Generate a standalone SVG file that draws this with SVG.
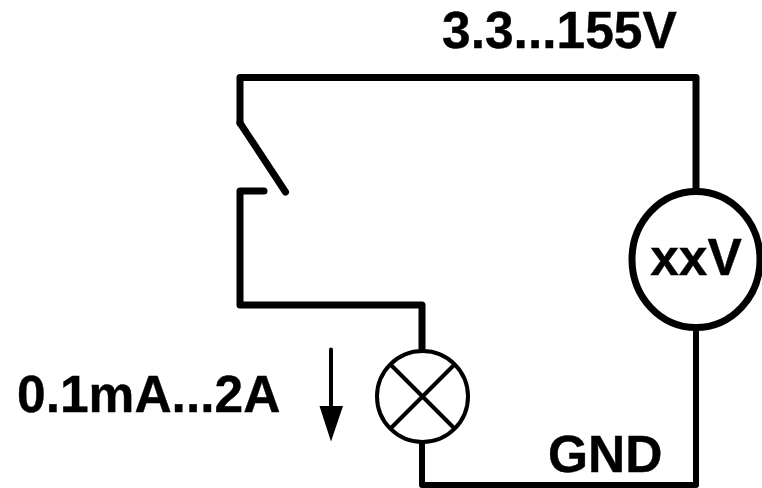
<svg xmlns="http://www.w3.org/2000/svg" width="762" height="488" viewBox="0 0 762 488">
<style>
.w{fill:none;stroke:#000;stroke-width:7;stroke-linecap:round;stroke-linejoin:round}
.n{fill:none;stroke:#000;stroke-width:6;stroke-linecap:butt;stroke-linejoin:round}
.t{font-family:"Liberation Sans",Arial,sans-serif;font-weight:bold;font-size:51.500px;fill:#000;stroke:#000;stroke-width:.4}
</style>
<rect width="762" height="488" fill="#fff"/>
<g id="connectors">
<path class="w" d="M240 123V77.500H696V190"/>
<path class="w" d="M240 123L285.500 192"/>
<path class="w" d="M264 191H240V305H422V350"/>
<path class="n" d="M696 330V485H422V442"/>
</g>
<g id="voltmeter"><ellipse cx="696" cy="259.500" rx="64" ry="68" fill="#fff" stroke="#000" stroke-width="7"/>
<text class="t" x="696" y="275" text-anchor="middle">xxV</text></g>
<g id="lamp"><circle cx="422.500" cy="396.500" r="45.500" fill="#fff" stroke="#000" stroke-width="4"/>
<path d="M390.500 364.500L454.500 428.500M454.500 364.500L390.500 428.500" stroke="#000" stroke-width="4" fill="none"/></g>
<g id="arrow"><path d="M331 349.500V410" stroke="#000" stroke-width="4" stroke-linecap="round"/><path d="M319.500 406H343L331 441.500Z" fill="#000"/></g>
<text class="t" x="442" y="48">3.3...155V</text>
<text class="t" x="17" y="412">0.1mA...2A</text>
<text class="t" x="548" y="472">GND</text>
</svg>
